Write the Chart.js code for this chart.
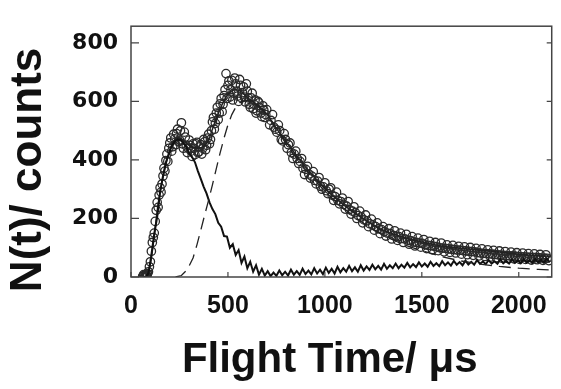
<!DOCTYPE html>
<html>
<head>
<meta charset="utf-8">
<script src="https://cdn.jsdelivr.net/npm/chart.js@4.4.1/dist/chart.umd.min.js"></script>
<style>
  html, body { margin: 0; padding: 0; background: #fff; }
  #wrap { width: 561px; height: 389px; position: relative; }
</style>
</head>
<body>
<div id="wrap"><canvas id="c"></canvas></div>
<script>
// ---- data (t in µs, N in counts) ----
const xTickLabels = [0, 500, 1000, 1500, 2000];
const yTickLabels = [0, 200, 400, 600, 800];

// measured counts (open circles) [t, N]
const measured = [
  [60,2],[65,4],[70,0],[72,6],[78,3],[80,6],[84,9],[90,18],[100,52],[110,118],[120,150],[130,228],[140,238],
  [150,305],[160,318],[170,372],[180,398],[190,395],[200,458],[210,430],[220,488],[230,452],
  [240,505],[250,468],[260,527],[270,440],[280,478],[290,425],[300,468],[310,430],[320,455],
  [330,418],[340,460],[350,428],[360,452],[370,440],[380,462],[390,450],[400,488],[410,470],
  [420,530],[430,505],[440,560],[450,538],[460,592],[470,565],[480,620],[490,695],[500,655],
  [510,615],[520,672],[530,628],[540,660],[550,618],[560,675],[570,612],[580,650],[590,598],
  [600,635],[610,590],[620,612],[630,575],[640,605],[650,568],[660,595],[670,560],[680,585],
  [690,545],[700,572],
  [715,520],[730,555],[745,505],[760,520],[775,470],[790,490],[805,440],[820,458],[835,405],
  [850,430],[865,388],[880,405],[895,350],[910,378],[925,338],[940,360],[955,318],[970,340],
  [985,300],[1000,322],[1015,285],[1030,305],[1045,262],[1060,290],[1075,250],[1090,270],
  [1105,232],[1120,258],[1135,215],[1150,240],[1165,200],[1180,225],[1195,185],[1210,212],
  [1225,172],[1240,198],[1255,160],[1270,185],[1285,148],[1300,172],[1315,140],[1330,165],
  [1345,130],[1360,158],[1375,125],[1390,150],[1405,118],[1420,146],[1435,112],[1450,138],
  [1465,106],[1480,133],[1495,102],[1510,128],[1525,97],[1540,122],[1555,93],[1570,118],
  [1585,90],[1600,116],[1615,86],[1630,110],[1645,84],[1660,108],[1675,82],[1690,105],
  [1705,78],[1720,103],[1735,76],[1750,101],[1765,74],[1780,98],[1795,72],[1810,96],
  [1825,70],[1840,93],[1855,68],[1870,91],[1885,66],[1900,89],[1915,64],[1930,87],
  [1945,63],[1960,85],[1975,62],[1990,83],[2005,60],[2020,82],[2035,60],[2050,80],
  [2065,58],[2080,79],[2095,59],[2110,77],[2125,57],[2140,76],[2155,56],
  // second pass of readings between the first ones
  [65,8],[75,3],[85,12],[95,35],[105,88],[115,135],[125,190],[135,255],[145,280],[155,290],
  [165,345],[175,362],[185,420],[195,440],[205,475],[215,445],[225,472],[235,490],[245,462],
  [255,500],[265,455],[275,495],[285,448],[295,440],[305,450],[315,412],[325,440],[335,455],
  [345,425],[355,445],[365,420],[375,470],[385,435],[395,475],[405,455],[415,500],[425,545],
  [435,525],[445,580],[455,560],[465,610],[475,590],[485,640],[495,610],[505,670],[515,640],
  [525,605],[535,680],[545,635],[555,600],[565,655],[575,630],[585,615],[595,660],[605,612],
  [615,580],[625,628],[635,590],[645,560],[655,600],[665,578],[675,548],[685,570],[695,555],
  [722,535],[737,512],[752,495],[767,500],[782,465],[797,470],[812,452],[827,425],[842,420],
  [857,405],[872,395],[887,372],[902,368],[917,352],[932,345],[947,330],[962,328],[977,310],
  [992,308],[1007,295],[1022,300],[1037,280],[1052,275],[1067,262],[1082,258],[1097,248],
  [1112,242],[1127,230],[1142,225],[1157,220],[1172,210],[1187,205],[1202,195],[1217,192],
  [1232,182],[1247,178],[1262,172],[1277,165],[1292,162],[1307,155],[1322,150],[1337,148],
  [1352,142],[1367,140],[1382,138],[1397,132],[1412,130],[1427,126],[1442,124],[1457,120],
  [1472,118],[1487,116],[1502,115],[1517,110],[1532,108],[1547,107],[1562,105],[1577,103],
  [1592,100],[1607,99],[1622,98],[1637,96],[1652,95],[1667,94],[1682,92],[1697,92],[1712,90],
  [1727,89],[1742,88],[1757,87],[1772,86],[1787,84],[1802,82],[1817,81],[1832,80],[1847,79],
  [1862,78],[1877,77],[1892,76],[1907,75],[1922,74],[1937,73],[1952,72],[1967,72],[1982,71],
  [1997,70],[2012,69],[2027,69],[2042,68],[2057,67],[2072,67],[2087,66],[2102,66],[2117,65],
  [2132,65],[2147,64]
];

// total fit through the measured points [t, N]
const totalFit = [
  [60,0],[80,3],[100,45],[120,140],[140,250],[160,325],[180,385],[200,432],[220,462],[240,474],
  [260,472],[280,460],[300,450],[320,443],[340,441],[360,442],[380,448],[400,468],[420,505],
  [440,542],[460,575],[480,603],[500,624],[520,636],[540,640],[560,637],[580,627],[600,614],
  [650,588],[700,557],[750,508],[800,462],[850,418],[900,376],[950,338],[1000,302],[1100,245],
  [1200,198],[1300,160],[1400,137],[1500,120],[1600,106],[1700,98],[1800,92],[1900,85],
  [2000,78],[2100,73],[2160,71]
];

// fast component (noisy solid trace) [t, N]
const fastComp = [
  [60,0],[75,0],[90,12],[105,75],[120,148],[135,205],[150,290],[165,345],[180,392],[195,420],
  [210,448],[225,462],[240,470],[255,468],[270,458],[285,445],[300,422],[315,410],[330,392],
  [345,362],[360,335],[375,308],[390,285],[405,255],[420,232],[435,215],[450,185],[465,172],
  [480,140],[495,138],[510,100],[525,112],[540,75],[555,92],[570,48],[585,70],[600,30],
  [615,52],[630,18],[645,40],[660,8],[675,28],[690,5],[705,20],[720,3],[735,15],[750,4],
  [765,22],[780,6],[795,18],[810,5],[825,25],[840,8],[855,20],[870,7],[885,28],[900,10],
  [915,22],[930,9],[945,30],[960,12],[975,25],[990,10],[1005,32],[1020,14],[1035,28],
  [1050,12],[1065,35],[1080,16],[1095,30],[1110,18],[1125,38],[1140,20],[1155,33],[1170,18],
  [1185,40],[1200,22],[1215,36],[1230,24],[1245,42],[1260,26],[1275,38],[1290,25],[1305,45],
  [1320,28],[1335,40],[1350,30],[1365,46],[1380,30],[1395,42],[1410,32],[1425,48],[1440,33],
  [1455,44],[1470,34],[1485,50],[1500,36],[1515,46],[1530,35],[1545,52],[1560,38],[1575,47],
  [1590,37],[1605,54],[1620,40],[1635,50],[1650,39],[1665,55],[1680,42],[1695,51],[1710,40],
  [1725,56],[1740,43],[1755,52],[1770,42],[1785,58],[1800,45],[1815,53],[1830,44],[1845,58],
  [1860,46],[1875,54],[1890,45],[1905,60],[1920,47],[1935,55],[1950,46],[1965,60],[1980,48],
  [1995,56],[2010,47],[2025,62],[2040,49],[2055,57],[2070,48],[2085,61],[2100,50],[2115,58],
  [2130,49],[2145,62],[2160,51]
];

// slow component (dashed) [t, N]
const slowComp = [
  [230,0],[260,5],[290,25],[320,65],[340,110],[360,160],[380,212],[400,262],[420,315],
  [440,370],[460,425],[480,475],[500,520],[520,555],[540,580],[560,595],[580,602],[600,603],
  [650,590],[700,555],[750,505],[800,455],[850,410],[900,368],[950,330],[1000,292],[1100,232],
  [1200,183],[1300,143],[1400,112],[1500,90],[1600,70],[1700,55],[1800,44],[1900,36],
  [2000,30],[2100,26],[2170,24]
];

const toXY = arr => arr.map(p => ({x: p[0], y: p[1]}));

const frameAndTicks = {
  id: 'frameAndTicks',
  afterDatasetsDraw(chart) {
    const {ctx, chartArea: a, scales} = chart;
    ctx.save();
    ctx.strokeStyle = '#444';
    ctx.lineWidth = 1.5;
    ctx.strokeRect(a.left, a.top, a.right - a.left, a.bottom - a.top);
    ctx.lineWidth = 1.2;
    ctx.beginPath();
    yTickLabels.forEach(v => {
      const py = scales.y.getPixelForValue(v);
      ctx.moveTo(a.left, py); ctx.lineTo(a.left + 8, py);
      ctx.moveTo(a.right, py); ctx.lineTo(a.right - 5, py);
    });
    xTickLabels.forEach(v => {
      const px = scales.x.getPixelForValue(v);
      ctx.moveTo(px, a.bottom); ctx.lineTo(px, a.bottom - 5);
    });
    ctx.stroke();
    ctx.restore();
  }
};

new Chart(document.getElementById('c'), {
  type: 'scatter',
  data: {
    datasets: [
      {
        type: 'line', data: toXY(slowComp), borderColor: '#222', borderWidth: 1.3,
        borderDash: [12, 7], pointRadius: 0, fill: false, tension: 0
      },
      {
        type: 'line', data: toXY(fastComp), borderColor: '#111', borderWidth: 2,
        pointRadius: 0, fill: false, tension: 0
      },
      {
        type: 'line', data: toXY(totalFit), borderColor: '#222', borderWidth: 1.5,
        pointRadius: 0, fill: false, tension: 0.3
      },
      {
        data: toXY(measured), showLine: false, pointStyle: 'circle', pointRadius: 4.2,
        pointBorderWidth: 1.3, pointBorderColor: '#2a2a2a', pointBackgroundColor: 'rgba(0,0,0,0)'
      }
    ]
  },
  options: {
    responsive: true,
    maintainAspectRatio: false,
    animation: false,
    layout: { padding: { top: 14, right: 2, left: 0, bottom: 0 } },
    plugins: { legend: { display: false }, tooltip: { enabled: false } },
    scales: {
      x: {
        type: 'linear', min: 0, max: 2170,
        afterBuildTicks: s => { s.ticks = xTickLabels.map(v => ({value: v})); },
        afterFit: s => { s.height = 112; },
        grid: { display: true, drawOnChartArea: false, drawTicks: false },
        border: { display: false },
        ticks: {
          autoSkip: false, maxRotation: 0, padding: 14, color: '#111',
          callback: v => String(v),
          font: { family: 'Liberation Sans, Arial, sans-serif', size: 25, weight: 'bold' }
        },
        title: {
          display: true, text: 'Flight Time/ μs  ', color: '#111',
          padding: { top: 0, bottom: 3 },
          font: { family: 'Liberation Sans, Arial, sans-serif', size: 42, weight: 'bold' }
        }
      },
      y: {
        type: 'linear', min: 0, max: 857,
        afterBuildTicks: s => { s.ticks = yTickLabels.map(v => ({value: v})); },
        afterFit: s => { s.width = 131; },
        grid: { display: true, drawOnChartArea: false, drawTicks: false },
        border: { display: false },
        ticks: {
          padding: 13, color: '#111',
          callback: v => String(v),
          font: { family: 'DejaVu Sans, sans-serif', size: 22, weight: 'bold' }
        },
        title: {
          display: true, text: 'N(t)/ counts   ', color: '#111',
          padding: { top: 2, bottom: 0 },
          font: { family: 'Liberation Sans, Arial, sans-serif', size: 44, weight: 'bold' }
        }
      }
    }
  },
  plugins: [frameAndTicks]
});
</script>
</body>
</html>
